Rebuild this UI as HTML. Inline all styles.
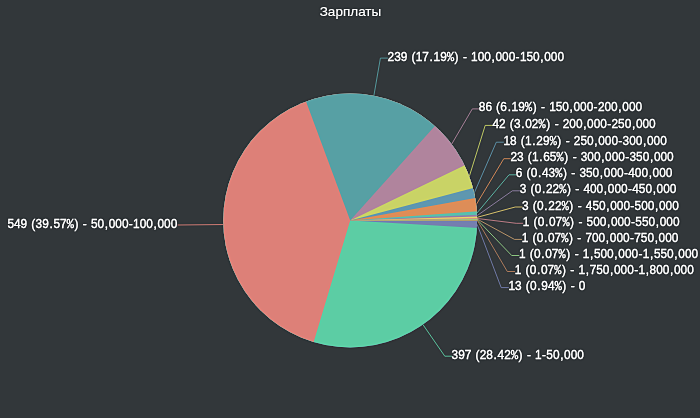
<!DOCTYPE html>
<html lang="ru"><head><meta charset="utf-8"><title>Зарплаты</title>
<style>
html,body{margin:0;padding:0;background:#32373A;overflow:hidden}
svg{display:block}
text{font-family:"Liberation Sans","DejaVu Sans",sans-serif;fill:#F5F5F5;stroke:#F5F5F5;stroke-width:0.35px}
.lbl{font-size:12.57px}
.ttl{font-size:13.2px;stroke-width:0.1px}
.m{font-family:"Liberation Mono",monospace}
.ln{fill:none;stroke-width:1;stroke-opacity:.78}
</style></head><body>
<svg width="700" height="418" viewBox="0 0 700 418">
<defs><filter id="usm" x="-10" y="-10" width="720" height="438" filterUnits="userSpaceOnUse" color-interpolation-filters="sRGB">
<feGaussianBlur in="SourceGraphic" stdDeviation="1.0" result="b"/>
<feComposite in="SourceGraphic" in2="b" operator="arithmetic" k1="0" k2="1.35" k3="-0.35" k4="0"/>
</filter></defs>
<g filter="url(#usm)">
<rect x="-10" y="-10" width="720" height="438" fill="#32373A"/>
<text class="ttl" x="319.7" y="16.3" textLength="61.6" lengthAdjust="spacingAndGlyphs">Зарплаты</text>
<clipPath id="pc"><circle cx="350.2" cy="220.5" r="127.0"/></clipPath>
<g clip-path="url(#pc)"><circle cx="350.2" cy="220.5" r="133.0" fill="#757FAF"/>
<path d="M350.2 220.5L482.97 228.35A133.0 133.0 0 1 1 483.20 220.50Z" fill="#5CCDA4"/>
<path d="M350.2 220.5L311.93 347.87A133.0 133.0 0 1 1 483.20 220.50Z" fill="#DD8078"/>
<path d="M350.2 220.5L303.91 95.82A133.0 133.0 0 0 1 483.20 220.50Z" fill="#57A0A4"/>
<path d="M350.2 220.5L438.92 121.42A133.0 133.0 0 0 1 483.20 220.50Z" fill="#B0849D"/>
<path d="M350.2 220.5L469.97 162.68A133.0 133.0 0 0 1 483.20 220.50Z" fill="#C9D366"/>
<path d="M350.2 220.5L478.77 186.44A133.0 133.0 0 0 1 483.20 220.50Z" fill="#5F97AF"/>
<path d="M350.2 220.5L481.12 197.06A133.0 133.0 0 0 1 483.20 220.50Z" fill="#DD8D58"/>
<path d="M350.2 220.5L482.85 210.84A133.0 133.0 0 0 1 483.20 220.50Z" fill="#5DBDAB"/>
<path d="M350.2 220.5L483.06 214.46A133.0 133.0 0 0 1 483.20 220.50Z" fill="#9381A6"/>
<path d="M350.2 220.5L483.13 216.27A133.0 133.0 0 0 1 483.20 220.50Z" fill="#E1CB6D"/>
<path d="M350.2 220.5L483.18 218.08A133.0 133.0 0 0 1 483.20 220.50Z" fill="#C7828B"/>
<path d="M350.2 220.5L483.19 218.69A133.0 133.0 0 0 1 483.20 220.50Z" fill="#C39B6B"/>
<path d="M350.2 220.5L483.19 219.29A133.0 133.0 0 0 1 483.20 220.50Z" fill="#92D085"/>
<path d="M350.2 220.5L483.20 219.90A133.0 133.0 0 0 1 483.20 220.50Z" fill="#B7805D"/></g>
<g><path class="ln" stroke="#757FAF" d="M477.14 224.25L501.2 287.6L508.8 287.6"/>
<path class="ln" stroke="#5CCDA4" d="M422.95 324.60L444.8 356.2L451.9 356.2"/>
<path class="ln" stroke="#DD8078" d="M223.26 224.54L177.6 225.0"/>
<path class="ln" stroke="#57A0A4" d="M373.86 95.72L380.4 58.1L387.9 58.1"/>
<path class="ln" stroke="#B0849D" d="M451.68 144.13L472.3 108.9L479.1 108.9"/>
<path class="ln" stroke="#C9D366" d="M469.31 176.43L485.2 125.4L492.7 125.4"/>
<path class="ln" stroke="#5F97AF" d="M474.19 193.02L496.3 142.2L503.8 142.2"/>
<path class="ln" stroke="#DD8D58" d="M476.21 204.67L503.8 158.7L510.7 158.7"/>
<path class="ln" stroke="#5DBDAB" d="M476.98 213.00L509.0 174.8L516.0 174.8"/>
<path class="ln" stroke="#9381A6" d="M477.11 215.60L512.4 190.8L520.0 190.8"/>
<path class="ln" stroke="#E1CB6D" d="M477.16 217.33L515.2 207.0L522.4 207.0"/>
<path class="ln" stroke="#C7828B" d="M477.18 218.48L516.2 223.3L523.1 223.3"/>
<path class="ln" stroke="#C39B6B" d="M477.19 219.06L514.5 239.4L522.0 239.4"/>
<path class="ln" stroke="#92D085" d="M477.20 219.63L511.7 255.5L519.3 255.5"/>
<path class="ln" stroke="#B7805D" d="M477.20 220.21L507.3 271.5L515.0 271.5"/></g>
<g><text class="lbl" transform="translate(508.50 290.10) scale(0.943 1)" x="0.00 6.99 14.24 18.35 22.89 30.58 34.78 41.77 48.99 57.11 61.91 66.02 70.82 74.58" y="0">13 (0.94<tspan class="m">%</tspan>) - 0</text>
<text class="lbl" transform="translate(451.60 358.70) scale(0.943 1)" x="0.00 6.99 13.98 21.23 25.34 29.88 36.87 44.56 48.76 55.75 62.97 71.09 75.89 80.00 84.80 88.56 95.90 100.44 107.43 115.12 119.32 126.31 133.30" y="0">397 (28.42<tspan class="m">%</tspan>) - 1-50,000</text>
<text class="lbl" transform="translate(7.43 227.50) scale(0.943 1)" x="0.00 6.99 13.98 21.23 25.34 29.88 36.87 44.56 48.76 55.75 62.97 71.09 75.89 80.00 84.80 88.56 95.55 103.24 107.43 114.42 121.41 128.76 133.30 140.29 147.28 154.97 159.16 166.15 173.14" y="0">549 (39.57<tspan class="m">%</tspan>) - 50,000-100,000</text>
<text class="lbl" transform="translate(387.60 60.60) scale(0.943 1)" x="0.00 6.99 13.98 21.23 25.34 29.88 36.87 44.56 48.76 55.75 62.97 71.09 75.89 80.00 84.80 88.56 95.55 102.54 110.23 114.42 121.41 128.40 135.75 140.29 147.28 154.27 161.96 166.15 173.14 180.13" y="0">239 (17.19<tspan class="m">%</tspan>) - 100,000-150,000</text>
<text class="lbl" transform="translate(478.80 111.40) scale(0.943 1)" x="0.00 6.99 14.24 18.35 22.89 30.58 34.78 41.77 48.99 57.11 61.91 66.02 70.82 74.58 81.57 88.56 96.25 100.44 107.43 114.42 121.77 126.31 133.30 140.29 147.98 152.17 159.16 166.15" y="0">86 (6.19<tspan class="m">%</tspan>) - 150,000-200,000</text>
<text class="lbl" transform="translate(492.40 127.90) scale(0.943 1)" x="0.00 6.99 14.24 18.35 22.89 30.58 34.78 41.77 48.99 57.11 61.91 66.02 70.82 74.58 81.57 88.56 96.25 100.44 107.43 114.42 121.77 126.31 133.30 140.29 147.98 152.17 159.16 166.15" y="0">42 (3.02<tspan class="m">%</tspan>) - 200,000-250,000</text>
<text class="lbl" transform="translate(503.50 144.70) scale(0.943 1)" x="0.00 6.99 14.24 18.35 22.89 30.58 34.78 41.77 48.99 57.11 61.91 66.02 70.82 74.58 81.57 88.56 96.25 100.44 107.43 114.42 121.77 126.31 133.30 140.29 147.98 152.17 159.16 166.15" y="0">18 (1.29<tspan class="m">%</tspan>) - 250,000-300,000</text>
<text class="lbl" transform="translate(510.40 161.20) scale(0.943 1)" x="0.00 6.99 14.24 18.35 22.89 30.58 34.78 41.77 48.99 57.11 61.91 66.02 70.82 74.58 81.57 88.56 96.25 100.44 107.43 114.42 121.77 126.31 133.30 140.29 147.98 152.17 159.16 166.15" y="0">23 (1.65<tspan class="m">%</tspan>) - 300,000-350,000</text>
<text class="lbl" transform="translate(515.70 177.30) scale(0.943 1)" x="0.00 7.25 11.36 15.90 23.59 27.79 34.78 41.99 50.12 54.92 59.03 63.83 67.59 74.58 81.57 89.26 93.45 100.44 107.43 114.78 119.32 126.31 133.30 140.99 145.18 152.17 159.16" y="0">6 (0.43<tspan class="m">%</tspan>) - 350,000-400,000</text>
<text class="lbl" transform="translate(519.70 193.30) scale(0.943 1)" x="0.00 7.25 11.36 15.90 23.59 27.79 34.78 41.99 50.12 54.92 59.03 63.83 67.59 74.58 81.57 89.26 93.45 100.44 107.43 114.78 119.32 126.31 133.30 140.99 145.18 152.17 159.16" y="0">3 (0.22<tspan class="m">%</tspan>) - 400,000-450,000</text>
<text class="lbl" transform="translate(522.10 209.50) scale(0.943 1)" x="0.00 7.25 11.36 15.90 23.59 27.79 34.78 41.99 50.12 54.92 59.03 63.83 67.59 74.58 81.57 89.26 93.45 100.44 107.43 114.78 119.32 126.31 133.30 140.99 145.18 152.17 159.16" y="0">3 (0.22<tspan class="m">%</tspan>) - 450,000-500,000</text>
<text class="lbl" transform="translate(522.80 225.80) scale(0.943 1)" x="0.00 7.25 11.36 15.90 23.59 27.79 34.78 41.99 50.12 54.92 59.03 63.83 67.59 74.58 81.57 89.26 93.45 100.44 107.43 114.78 119.32 126.31 133.30 140.99 145.18 152.17 159.16" y="0">1 (0.07<tspan class="m">%</tspan>) - 500,000-550,000</text>
<text class="lbl" transform="translate(521.70 241.90) scale(0.943 1)" x="0.00 7.25 11.36 15.90 23.59 27.79 34.78 41.99 50.12 54.92 59.03 63.83 67.59 74.58 81.57 89.26 93.45 100.44 107.43 114.78 119.32 126.31 133.30 140.99 145.18 152.17 159.16" y="0">1 (0.07<tspan class="m">%</tspan>) - 700,000-750,000</text>
<text class="lbl" transform="translate(519.00 258.00) scale(0.943 1)" x="0.00 7.25 11.36 15.90 23.59 27.79 34.78 41.99 50.12 54.92 59.03 63.83 67.59 75.28 79.47 86.46 93.45 101.14 105.34 112.33 119.32 126.66 131.20 138.89 143.09 150.08 157.07 164.76 168.95 175.94 182.93" y="0">1 (0.07<tspan class="m">%</tspan>) - 1,500,000-1,550,000</text>
<text class="lbl" transform="translate(514.70 274.00) scale(0.943 1)" x="0.00 7.25 11.36 15.90 23.59 27.79 34.78 41.99 50.12 54.92 59.03 63.83 67.59 75.28 79.47 86.46 93.45 101.14 105.34 112.33 119.32 126.66 131.20 138.89 143.09 150.08 157.07 164.76 168.95 175.94 182.93" y="0">1 (0.07<tspan class="m">%</tspan>) - 1,750,000-1,800,000</text></g>
</g>
</svg></body></html>
